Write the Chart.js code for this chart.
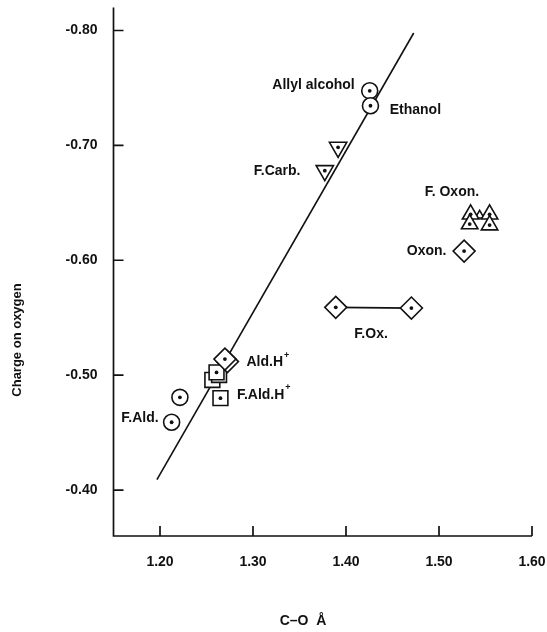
<!DOCTYPE html>
<html>
<head>
<meta charset="utf-8">
<script src="https://cdn.jsdelivr.net/npm/chart.js@4.4.0/dist/chart.umd.min.js"></script>
<style>
  html, body { margin: 0; padding: 0; background: #fff; }
  canvas { display: block; }
</style>
</head>
<body>
<canvas id="chart" width="547" height="632"></canvas>
<script>
// values (C-O length in Angstrom, charge on oxygen)
const alcoholX = [1.4255, 1.4263];
const alcoholY = [-0.7475, -0.7345];
const carbX = [1.3915, 1.3772];
const carbY = [-0.6983, -0.678];
const fOxonX = [1.534, 1.5544, 1.533, 1.5544];
const fOxonY = [-0.640, -0.640, -0.6315, -0.6306];
const fOxonSmallX = [1.5437];
const fOxonSmallY = [-0.639];
const oxonX = [1.527];
const oxonY = [-0.608];
const fOxX = [1.389, 1.4703];
const fOxY = [-0.559, -0.5584];
const aldHX = [1.2698];
const aldHY = [-0.514];
const aldHBackX = [1.2725];
const aldHBackY = [-0.5118];
const fAldHX = [1.2608, 1.265];
const fAldHY = [-0.5024, -0.480];
const fAldHBackX = [1.2563, 1.2635];
const fAldHBackY = [-0.4958, -0.5002];
const fAldX = [1.2214, 1.2125];
const fAldY = [-0.4807, -0.459];
const fitX = [1.1967, 1.4728];
const fitY = [-0.409, -0.7978];

const xTicks = [1.20, 1.30, 1.40, 1.50, 1.60];
const yTicks = [-0.80, -0.70, -0.60, -0.50, -0.40];

// text labels next to the groups (anchored in data units)
const notes = [
    {text: 'Allyl alcohol', x: 1.4094, y: -0.7525, align: 'right'},
    {text: 'Ethanol', x: 1.447, y: -0.731, align: 'left'},
    {text: 'F.Carb.', x: 1.351, y: -0.678, align: 'right'},
    {text: 'F. Oxon.', x: 1.4846, y: -0.659, align: 'left'},
    {text: 'Oxon.', x: 1.508, y: -0.608, align: 'right'},
    {text: 'F.Ox.', x: 1.409, y: -0.536, align: 'left'},
    {text: 'Ald.H', sup: '+', x: 1.293, y: -0.511, align: 'left'},
    {text: 'F.Ald.H', sup: '+', x: 1.2827, y: -0.483, align: 'left'},
    {text: 'F.Ald.', x: 1.1986, y: -0.4627, align: 'right'}
];

const FONT = '"Liberation Sans", Arial, sans-serif';
const INK = '#111';

const toPoints = (xs, ys) => xs.map((x, i) => ({x: x, y: ys[i]}));

function markers(xs, ys, style, radius, extra) {
    return Object.assign({
        data: toPoints(xs, ys),
        pointStyle: style,
        pointRadius: radius,
        pointBackgroundColor: '#fff',
        pointBorderColor: INK,
        pointBorderWidth: 1.6,
        showLine: false,
        dot: true,
        order: 0
    }, extra || {});
}

const datasets = [
    markers(alcoholX, alcoholY, 'circle', 8),
    markers(fAldX, fAldY, 'circle', 8),
    markers(carbX, carbY, 'triangle', 10, {pointRotation: 180}),
    markers(fOxonX, fOxonY, 'triangle', 9.5),
    markers(oxonX, oxonY, 'rectRot', 11),
    markers(fOxX, fOxY, 'rectRot', 11, {showLine: true, borderColor: INK, borderWidth: 1.8}),
    markers(aldHX, aldHY, 'rectRot', 11),
    markers(fAldHX, fAldHY, 'rect', 10.5),
    markers(aldHBackX, aldHBackY, 'rectRot', 11, {dot: false, order: 1}),
    markers(fAldHBackX, fAldHBackY, 'rect', 10.5, {dot: false, order: 1}),
    markers(fOxonSmallX, fOxonSmallY, 'triangle', 5, {dot: false, order: 1}),
    {
        data: toPoints(fitX, fitY),
        showLine: true,
        borderColor: INK,
        borderWidth: 1.6,
        pointRadius: 0,
        order: 5
    }
];

const dotPlugin = {
    id: 'dots',
    afterDatasetsDraw(chart) {
        const ctx = chart.ctx;
        ctx.save();
        ctx.fillStyle = INK;
        chart.data.datasets.forEach((ds, i) => {
            if (!ds.dot) return;
            chart.getDatasetMeta(i).data.forEach(pt => {
                ctx.beginPath();
                ctx.arc(pt.x, pt.y, 1.9, 0, Math.PI * 2);
                ctx.fill();
            });
        });
        ctx.restore();
    }
};

const framePlugin = {
    id: 'frame',
    afterDraw(chart) {
        const ctx = chart.ctx;
        const area = chart.chartArea;
        const xs = chart.scales.x, ys = chart.scales.y;
        ctx.save();
        ctx.strokeStyle = INK;
        ctx.lineWidth = 1.7;
        ctx.beginPath();
        ctx.moveTo(area.left, area.top);
        ctx.lineTo(area.left, area.bottom);
        ctx.lineTo(area.right, area.bottom);
        for (const v of yTicks) {
            const p = ys.getPixelForValue(v);
            ctx.moveTo(area.left, p);
            ctx.lineTo(area.left + 10, p);
        }
        for (const v of xTicks) {
            const p = xs.getPixelForValue(v);
            ctx.moveTo(p, area.bottom);
            ctx.lineTo(p, area.bottom - 10);
        }
        ctx.stroke();

        // axis titles
        ctx.fillStyle = INK;
        ctx.textAlign = 'center';
        ctx.textBaseline = 'middle';
        ctx.font = 'bold 13px ' + FONT;
        ctx.save();
        ctx.translate(17, 340);
        ctx.rotate(-Math.PI / 2);
        ctx.fillText('Charge on oxygen', 0, 0);
        ctx.restore();
        ctx.font = 'bold 14px ' + FONT;
        ctx.fillText('C\u2013O  \u00C5', 303, 621);

        // group labels
        ctx.font = 'bold 14px ' + FONT;
        for (const n of notes) {
            const px = xs.getPixelForValue(n.x);
            const py = ys.getPixelForValue(n.y);
            const w = ctx.measureText(n.text).width;
            ctx.font = 'bold 9px ' + FONT;
            const sw = n.sup ? ctx.measureText(n.sup).width + 1 : 0;
            ctx.font = 'bold 14px ' + FONT;
            const x0 = n.align === 'right' ? px - w - sw : px;
            ctx.textAlign = 'left';
            ctx.fillText(n.text, x0, py);
            if (n.sup) {
                ctx.font = 'bold 9px ' + FONT;
                ctx.fillText(n.sup, x0 + w + 1, py - 7);
                ctx.font = 'bold 14px ' + FONT;
            }
        }
        ctx.restore();
    }
};

new Chart(document.getElementById('chart'), {
    type: 'scatter',
    data: {datasets: datasets},
    options: {
        responsive: false,
        animation: false,
        devicePixelRatio: 1,
        layout: {autoPadding: false, padding: {top: 7.5, right: 15, left: 0, bottom: 0}},
        plugins: {
            legend: {display: false},
            tooltip: {enabled: false}
        },
        scales: {
            x: {
                type: 'linear',
                min: 1.15,
                max: 1.60,
                grid: {display: false, drawTicks: false},
                border: {display: false},
                afterBuildTicks: s => { s.ticks = xTicks.map(v => ({value: v})); },
                afterFit: s => {
                    s.height = 96;
                    s.paddingLeft = 0;
                    s.paddingRight = 0;
                },
                ticks: {
                    padding: 18,
                    color: INK,
                    font: {family: FONT, size: 14, weight: 'bold'},
                    callback: v => v.toFixed(2)
                }
            },
            y: {
                type: 'linear',
                min: -0.82,
                max: -0.36,
                reverse: true,
                grid: {display: false, drawTicks: false},
                border: {display: false},
                afterBuildTicks: s => { s.ticks = yTicks.map(v => ({value: v})); },
                afterFit: s => {
                    s.width = 113.5;
                    s.paddingTop = 0;
                    s.paddingBottom = 0;
                },
                ticks: {
                    padding: 16,
                    color: INK,
                    font: {family: FONT, size: 14, weight: 'bold'},
                    callback: v => v.toFixed(2)
                }
            }
        }
    },
    plugins: [dotPlugin, framePlugin]
});
</script>
</body>
</html>
